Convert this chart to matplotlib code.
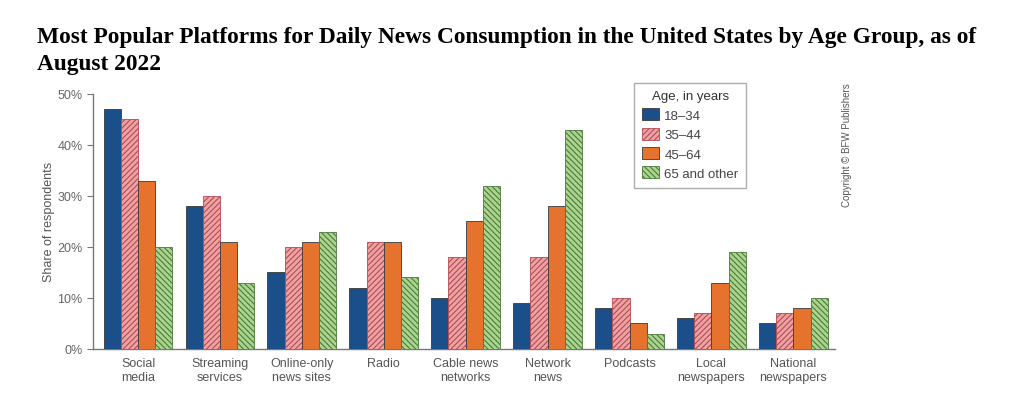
import matplotlib
matplotlib.use("Agg")
import matplotlib.pyplot as plt
import numpy as np

categories = ["Social\nmedia", "Streaming\nservices", "Online-only\nnews sites", "Radio",
              "Cable news\nnetworks", "Network\nnews", "Podcasts", "Local\nnewspapers",
              "National\nnewspapers"]
series_names = ["18–34", "35–44", "45–64", "65 and other"]
age_18_34 = [47, 28, 15, 12, 10, 9, 8, 6, 5]
age_35_44 = [45, 30, 20, 21, 18, 18, 10, 7, 7]
age_45_64 = [33, 21, 21, 21, 25, 28, 5, 13, 8]
age_65 = [20, 13, 23, 14, 32, 43, 3, 19, 10]
yticks = [0, 10, 20, 30, 40, 50]

plt.rcParams['hatch.linewidth'] = 0.8
fig = plt.figure(figsize=(10.11, 4.14), dpi=100)
ax = fig.add_axes([0.092, 0.155, 0.734, 0.616])

series = [age_18_34, age_35_44, age_45_64, age_65]
faces = ["#1b4f8a", "#eea3a3", "#e5732e", "#acd48f"]
hatches = [None, "//////", None, "\\\\\\\\\\\\"]
hatchcol = [None, "#b34a55", None, "#4a7a3a"]
w = 0.21
x = np.arange(len(categories))
for i, (vals, fc, h, hc) in enumerate(zip(series, faces, hatches, hatchcol)):
    off = (i - 1.5) * w
    ax.bar(x + off, vals, width=w, color=fc, edgecolor=hc if hc else "#3a3a3a",
           linewidth=0.6, hatch=h, label=series_names[i], zorder=3)

ax.set_xlim(-0.55, len(categories) - 0.49)
ax.set_ylim(0, 50)
ax.set_yticks(yticks)
ax.set_yticklabels([f"{t}%" for t in yticks])
ax.set_xticks(x)
ax.set_xticklabels(categories)
for s in ["top", "right"]:
    ax.spines[s].set_visible(False)
for s in ["left", "bottom"]:
    ax.spines[s].set_color("#777777")
    ax.spines[s].set_linewidth(1.0)
ax.tick_params(axis="x", length=0, pad=6, labelsize=9, labelcolor="#555555")
ax.tick_params(axis="y", length=4, color="#777777", labelsize=9, labelcolor="#666666")
for lab in ax.get_xticklabels() + ax.get_yticklabels():
    lab.set_family("Liberation Sans")
ax.set_ylabel("Share of respondents", fontsize=9, color="#555555", family="Liberation Sans", labelpad=2)

leg = ax.legend(title="Age, in years", loc="upper left", bbox_to_anchor=(0.72, 1.07),
                frameon=True, fancybox=False, edgecolor="#999999",
                title_fontsize=9.5, handlelength=1.3, handleheight=1.0, handletextpad=0.4,
                labelspacing=0.45, borderpad=0.6, prop={"family": "Liberation Sans", "size": 9.5})
leg.get_title().set_family("Liberation Sans")
leg.get_title().set_color("#333333")
for t in leg.get_texts():
    t.set_color("#444444")

fig.text(0.838, 0.80, "Copyright © BFW Publishers", rotation=90, fontsize=7,
         color="#555555", family="Liberation Sans", ha="center", va="top")

fig.text(0.037, 0.935, "Most Popular Platforms for Daily News Consumption in the United States by Age Group, as of\nAugust 2022",
         fontsize=16.8, fontweight="bold", family="Liberation Serif", ha="left", va="top",
         linespacing=1.4)

fig.savefig("out.png", dpi=100)
